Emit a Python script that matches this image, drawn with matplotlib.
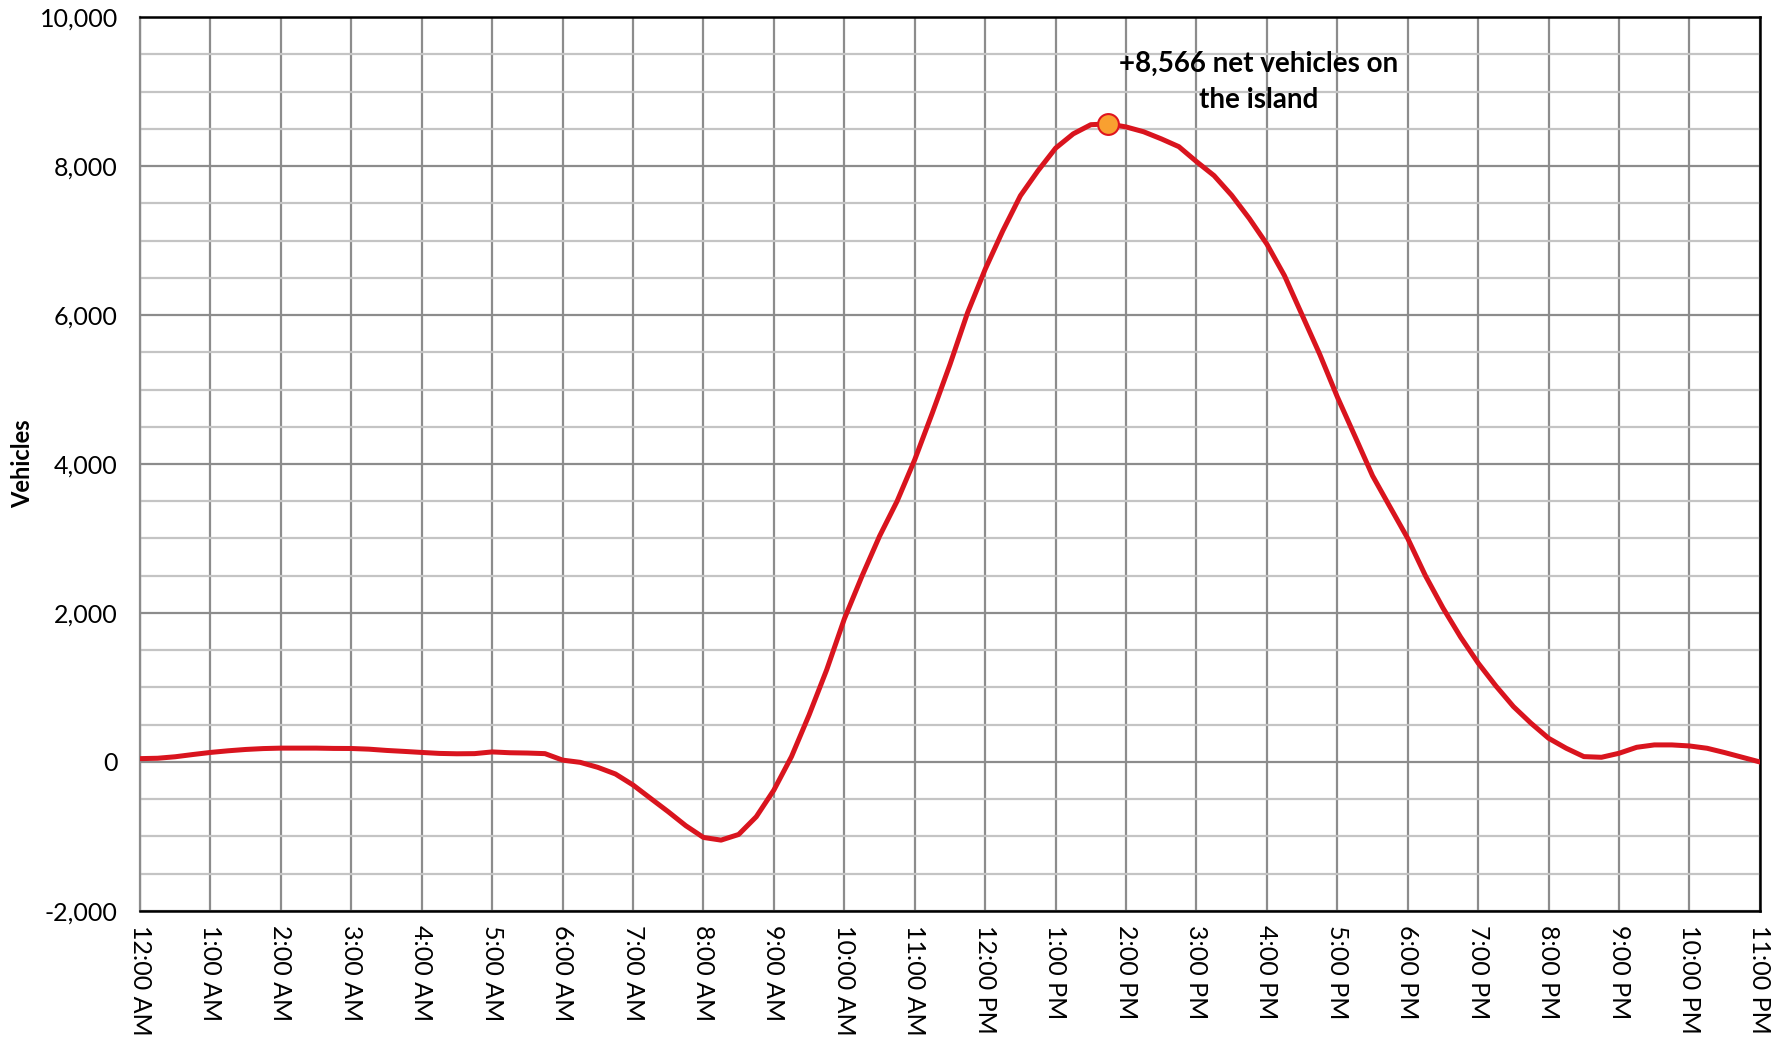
import matplotlib
matplotlib.use("Agg")
import matplotlib.pyplot as plt
from matplotlib.ticker import MultipleLocator, FuncFormatter
import numpy as np

# ---- data ----
hour_labels = ["12:00 AM", "1:00 AM", "2:00 AM", "3:00 AM", "4:00 AM", "5:00 AM",
               "6:00 AM", "7:00 AM", "8:00 AM", "9:00 AM", "10:00 AM", "11:00 AM",
               "12:00 PM", "1:00 PM", "2:00 PM", "3:00 PM", "4:00 PM", "5:00 PM",
               "6:00 PM", "7:00 PM", "8:00 PM", "9:00 PM", "10:00 PM", "11:00 PM"]

# net vehicles on the island, every 15 minutes from 12:00 AM to 11:00 PM
net_vehicles = [
    45, 50, 70, 100,            # 12 AM
    128, 150, 168, 180,         # 1 AM
    186, 186, 186, 182,         # 2 AM
    181, 172, 155, 142,         # 3 AM
    128, 115, 110, 112,         # 4 AM
    135, 124, 120, 112,         # 5 AM
    25, -5, -72, -161,          # 6 AM
    -309, -489, -668, -856,     # 7 AM
    -1013, -1049, -973, -735,   # 8 AM
    -377, 72, 632, 1238,        # 9 AM
    1920, 2493, 3031, 3502,     # 10 AM
    4058, 4686, 5336, 6031,     # 11 AM
    6614, 7130, 7601, 7937,     # 12 PM
    8240, 8432, 8555, 8566,     # 1 PM
    8525, 8460, 8365, 8260,     # 2 PM
    8060, 7871, 7607, 7296,     # 3 PM
    6951, 6527, 6000, 5473,     # 4 PM
    4900, 4373, 3842, 3420,     # 5 PM
    3000, 2502, 2067, 1677,     # 6 PM
    1327, 1022, 744, 520,       # 7 PM
    318, 184, 72, 63,           # 8 PM
    117, 197, 229, 229,         # 9 PM
    215, 184, 126, 63,          # 10 PM
    0,                          # 11 PM
]
peak_label = "+8,566 net vehicles on\nthe island"
y_label = "Vehicles"

# ---- figure ----
plt.rcParams['font.family'] = ['Lato', 'DejaVu Sans']

fig = plt.figure(figsize=(17.88, 10.46), dpi=100)
ax = fig.add_axes([0.0783, 0.1291, 0.9060, 0.8546])

t = np.arange(len(net_vehicles)) * 0.25
vals = np.array(net_vehicles, dtype=float)

ax.set_xlim(0, 23)
ax.set_ylim(-2000, 10000)

# grid
ax.yaxis.set_major_locator(MultipleLocator(2000))
ax.yaxis.set_minor_locator(MultipleLocator(500))
ax.set_xticks(np.arange(len(hour_labels)))
ax.set_xticklabels(hour_labels, rotation=270, fontsize=18)
ax.grid(which='major', axis='both', color='#8c8c8c', linewidth=1.6, zorder=0)
ax.grid(which='minor', axis='y', color='#c4c4c4', linewidth=1.6, zorder=0)
ax.set_axisbelow(True)

ax.yaxis.set_major_formatter(FuncFormatter(lambda v, p: f"{int(v):,}"))
ax.tick_params(axis='y', which='both', length=0, labelsize=18, pad=16)
ax.tick_params(axis='x', which='both', length=0, pad=10)
for lab in ax.get_xticklabels():
    lab.set_va('top')
    lab.set_ha('center')

for side in ['top', 'bottom', 'right']:
    ax.spines[side].set_color('black')
    ax.spines[side].set_linewidth(1.8)
ax.spines['left'].set_color('#8c8c8c')
ax.spines['left'].set_linewidth(1.6)

ax.set_ylabel(y_label, fontsize=17, fontweight='bold', va='center')
ax.yaxis.set_label_coords(-0.0722, 0.5)

# line
ax.plot(t, vals, color='#d9141e', linewidth=3.6, zorder=3, solid_joinstyle='round')

# peak marker
pk = int(np.argmax(vals))
ax.plot([t[pk]], [vals[pk]], marker='o', markersize=15, markerfacecolor='#f9a030',
        markeredgecolor='#e0141e', markeredgewidth=1.5, zorder=4, linestyle='none')

ax.annotate(peak_label, xy=(t[pk], vals[pk]), xytext=(15.88, 9130),
            textcoords='data', ha='center', va='center', fontsize=20,
            fontweight='bold', linespacing=1.45, zorder=5)

fig.savefig('out.png', dpi=100)
